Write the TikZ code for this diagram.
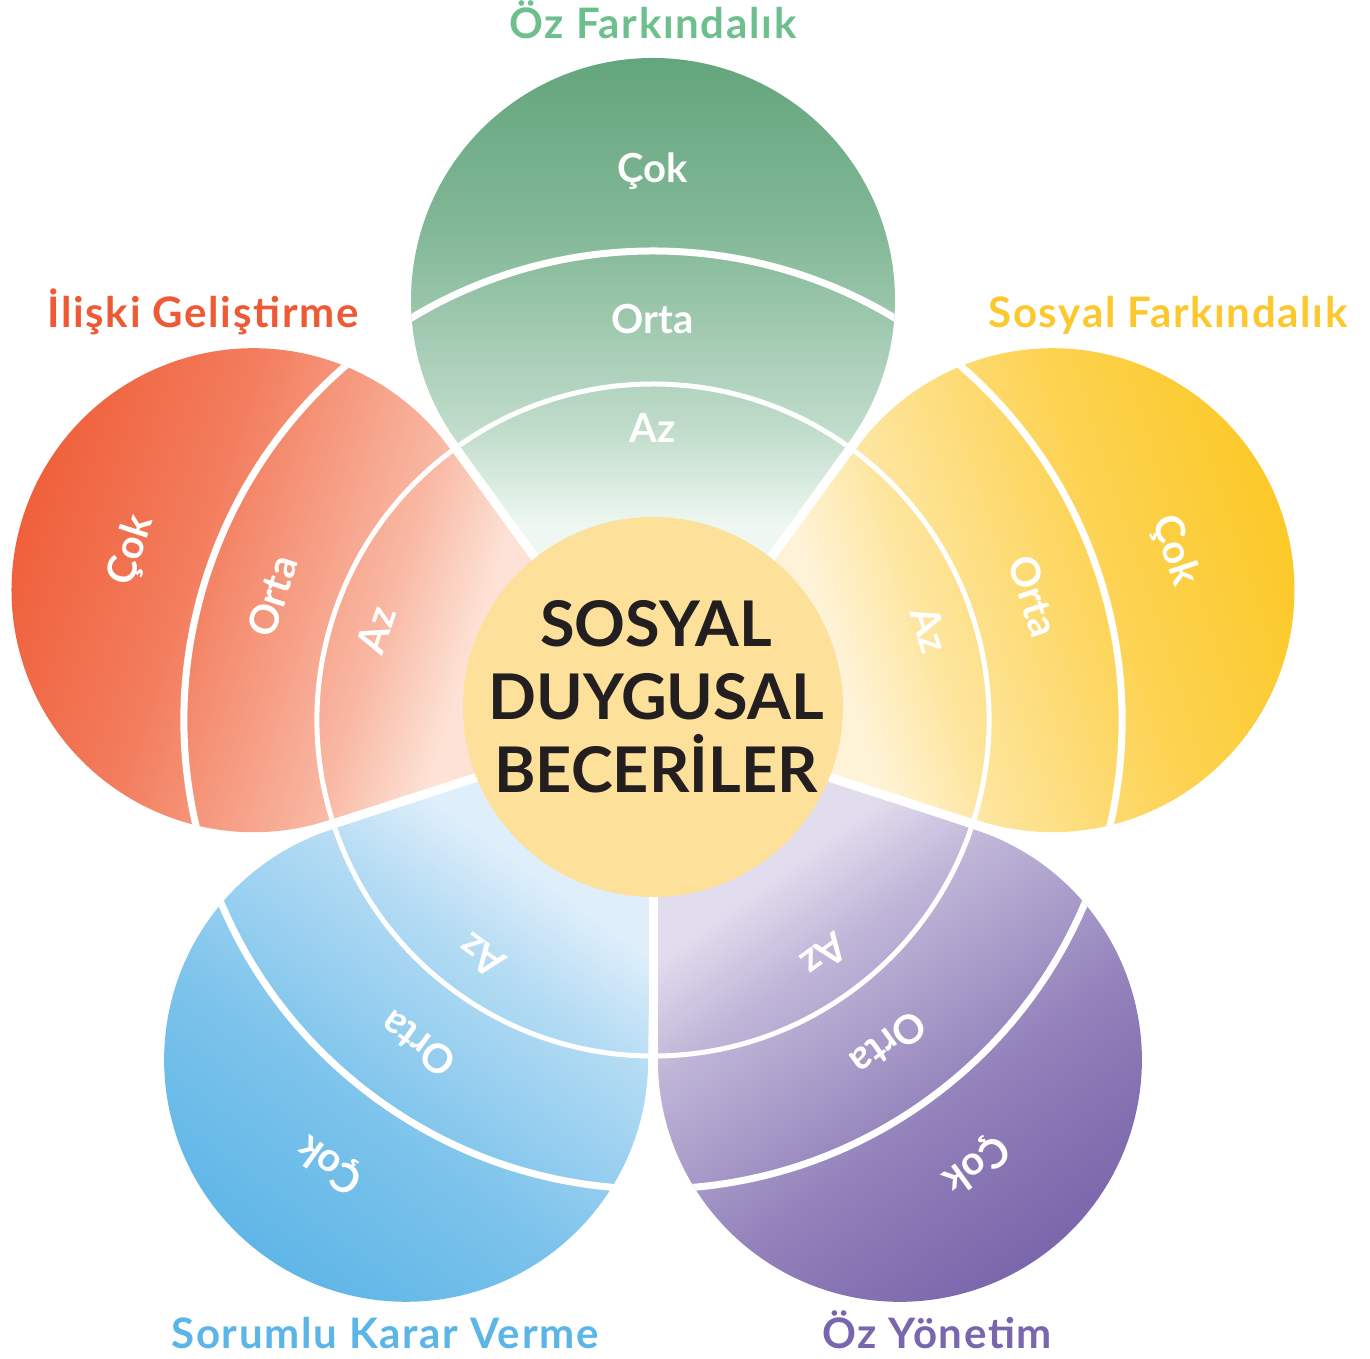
\documentclass[tikz,border=0pt]{standalone}
\usepackage{fontspec}
\setmainfont{Lato}
\newfontfamily\titlefont[LetterSpace=4]{Lato}
\usetikzlibrary{calc}

\definecolor{greentip}{RGB}{93,162,120}
\definecolor{greenbase}{RGB}{238,247,241}
\definecolor{greentitle}{RGB}{109,192,141}
\definecolor{orangetip}{RGB}{239,90,52}
\definecolor{orangebase}{RGB}{253,226,213}
\definecolor{orangetitle}{RGB}{238,90,53}
\definecolor{yellowtip}{RGB}{252,199,33}
\definecolor{yellowbase}{RGB}{254,243,215}
\definecolor{yellowtitle}{RGB}{252,200,45}
\definecolor{bluetip}{RGB}{90,180,230}
\definecolor{bluebase}{RGB}{222,238,250}
\definecolor{bluetitle}{RGB}{91,181,230}
\definecolor{purpletip}{RGB}{118,97,168}
\definecolor{purplebase}{RGB}{226,221,238}
\definecolor{purpletitle}{RGB}{122,102,174}
\definecolor{corefill}{RGB}{253,224,154}
\definecolor{coretext}{RGB}{35,31,32}

\colorlet{ptip}{greentip}
\colorlet{pbase}{greenbase}
\pgfdeclareverticalshading[ptip,pbase]{petalshade}{100bp}{%
  color(0bp)=(pbase); color(39bp)=(pbase); color(46bp)=(ptip!32!pbase);
  color(60bp)=(ptip!74!pbase); color(75bp)=(ptip); color(100bp)=(ptip)}

\tikzstyle{petal}=[shading=petalshade]
\tikzstyle{band}=[draw=white, line width=5pt]
\tikzstyle{bandout}=[draw=white, line width=7pt]
\tikzstyle{gap}=[draw=white, line width=9pt]
\tikzstyle{grade}=[text=white, font=\bfseries\fontsize{40}{48}\selectfont, anchor=base, inner sep=0pt]
\tikzstyle{title}=[font=\titlefont\bfseries\fontsize{42}{50}\selectfont, anchor=base, inner sep=0pt]
\tikzstyle{core}=[circle, fill=corefill, minimum size=380pt, inner sep=0pt]
\tikzstyle{coretxt}=[text=coretext, font=\bfseries\fontsize{63}{73}\selectfont, align=center, inner sep=0pt]

\begin{document}
\begin{tikzpicture}[x=1pt, y=1pt]
	\useasboundingbox (0,0) rectangle (1370,1359);
	\coordinate (C) at (653,639);
	%The five petals, drawn pointing up and turned into place
	\foreach \ang/\col/\name in {{90/green/fark}, {162/orange/iliski}, {234/blue/karar},
								{306/purple/yonetim}, {18/yellow/sosyal}}{
		\colorlet{ptip}{\col tip}
		\colorlet{pbase}{\col base}
		\begin{scope}[transform canvas={rotate around={\ang-90:(C)}}]
			\shade[petal] (C) -- ($(C)+(125.18:343.3)$) arc[start angle=215.18, end angle=-35.18, radius=242] -- cycle;
			\begin{scope}
				\clip (C) -- ($(C)+(125.18:343.3)$) arc[start angle=215.18, end angle=-35.18, radius=242] -- cycle;
				\draw[band] (C) circle[radius=336];
				\draw[bandout] (C) circle[radius=469];
			\end{scope}
		\end{scope}
		%the three levels, turned with the petal
		\node[grade, rotate=\ang-90] (\name-az) at ($(C)+(\ang:277)$) {Az};
		\node[grade, rotate=\ang-90] (\name-orta) at ($(C)+(\ang:386)$) {Orta};
		\node[grade, rotate=\ang-90] (\name-cok) at ($(C)+(\ang:537)$) {Çok};
	}
	%White gaps between the petals
	\foreach \g in {54,126,198,270,342}
		\draw[gap] (C) -- ++(\g:350);
	%The centre
	\node[core] (core) at (653,652) {};
	\node[coretxt] (coretxt) at (656,662) {SOSYAL\\DUYGUSAL\\BECERİLER};
	%The titles
	\foreach \pos/\name/\col/\txt in {{(653,1320)/t-fark/greentitle/Öz Farkındalık},
									{(203,1031)/t-iliski/orangetitle/İlişki Geliştirme},
									{(1168,1031)/t-sosyal/yellowtitle/Sosyal Farkındalık},
									{(385,10)/t-karar/bluetitle/Sorumlu Karar Verme},
									{(937,10)/t-yonetim/purpletitle/Öz Yönetim}}
		\node[title, text=\col] (\name) at \pos {\txt};
\end{tikzpicture}
\end{document}
